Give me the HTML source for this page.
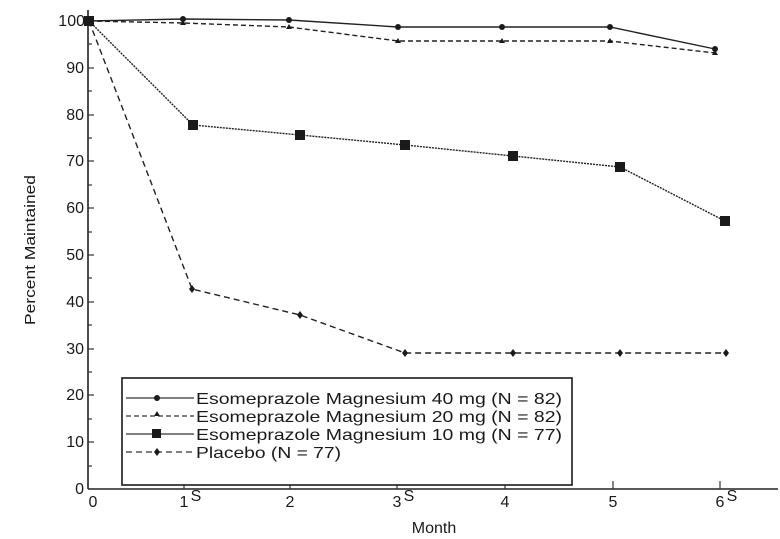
<!DOCTYPE html><html><head><style>body{margin:0;background:#fff}svg{display:block}text{font-family:"Liberation Sans",sans-serif;fill:#1a1a1a}</style></head><body>
<svg width="780" height="539" viewBox="0 0 780 539">
<g stroke="#222" stroke-width="1.6" fill="none">
<line x1="88" y1="10" x2="88" y2="489"/><line x1="88" y1="489" x2="778" y2="489"/>
</g>
<g stroke="#333" stroke-width="1.2">
<line x1="88" y1="21" x2="94" y2="21"/><line x1="88" y1="68" x2="94" y2="68"/><line x1="88" y1="115" x2="94" y2="115"/><line x1="88" y1="161" x2="94" y2="161"/><line x1="88" y1="208" x2="94" y2="208"/><line x1="88" y1="255" x2="94" y2="255"/><line x1="88" y1="302" x2="94" y2="302"/><line x1="88" y1="349" x2="94" y2="349"/><line x1="88" y1="395" x2="94" y2="395"/><line x1="88" y1="442" x2="94" y2="442"/>
<line x1="88" y1="44" x2="92" y2="44"/><line x1="88" y1="91" x2="92" y2="91"/><line x1="88" y1="138" x2="92" y2="138"/><line x1="88" y1="185" x2="92" y2="185"/><line x1="88" y1="232" x2="92" y2="232"/><line x1="88" y1="278" x2="92" y2="278"/><line x1="88" y1="325" x2="92" y2="325"/><line x1="88" y1="372" x2="92" y2="372"/><line x1="88" y1="419" x2="92" y2="419"/><line x1="88" y1="466" x2="92" y2="466"/>
<line x1="184" y1="489" x2="184" y2="481"/><line x1="290" y1="489" x2="290" y2="481"/><line x1="397" y1="489" x2="397" y2="481"/><line x1="505" y1="489" x2="505" y2="481"/><line x1="613" y1="489" x2="613" y2="481"/><line x1="720" y1="489" x2="720" y2="481"/>
</g>
<g font-size="16" text-anchor="end">
<text x="85" y="26">100</text><text x="84" y="73">90</text><text x="84" y="120">80</text><text x="84" y="166">70</text><text x="84" y="213">60</text><text x="84" y="260">50</text><text x="84" y="307">40</text><text x="84" y="354">30</text><text x="84" y="400">20</text><text x="84" y="447">10</text><text x="84" y="494">0</text>
</g>
<g font-size="16" text-anchor="middle">
<text x="93" y="507">0</text><text x="184" y="507">1</text><text x="290" y="507">2</text><text x="397" y="507">3</text><text x="505" y="507">4</text><text x="613" y="507">5</text><text x="720" y="507">6</text>
<text x="196" y="501">S</text><text x="409" y="501">S</text><text x="732" y="501">S</text>
<text x="434" y="533">Month</text>
</g>
<text transform="translate(35,250) rotate(-90)" font-size="15" text-anchor="middle" textLength="150" lengthAdjust="spacingAndGlyphs">Percent Maintained</text>
<g fill="none" stroke="#222" stroke-width="1.4">
<polyline points="89,21 183,19 289,20 398,27 502,27 610,27 715,49"/>
<polyline points="89,21 183,23 289,27 398,41 502,41 610,41 715,53" stroke-dasharray="5,3"/>
<polyline points="89,21 193,125 300,135 405,145 513,156 620,167 725,221" stroke-dasharray="2,1"/>
<polyline points="89,21 192,289 300,315 405,353 513,353 620,353 726,353" stroke-dasharray="6,4"/>
</g>
<g fill="#1a1a1a">
<rect x="84" y="16" width="10" height="10"/>
<circle cx="183" cy="19" r="3"/><circle cx="289" cy="20" r="3"/><circle cx="398" cy="27" r="3"/><circle cx="502" cy="27" r="3"/><circle cx="610" cy="27" r="3"/><circle cx="715" cy="49" r="3"/>
<path d="M183,20l3,5h-6zM289,24l3,5h-6zM398,38l3,5h-6zM502,38l3,5h-6zM610,38l3,5h-6zM715,50l3,5h-6z"/>
<rect x="188" y="120" width="10" height="10"/><rect x="295" y="130" width="10" height="10"/><rect x="400" y="140" width="10" height="10"/><rect x="508" y="151" width="10" height="10"/><rect x="615" y="162" width="10" height="10"/><rect x="720" y="216" width="10" height="10"/>
<path d="M192,285l3,4l-3,4l-3,-4zM300,311l3,4l-3,4l-3,-4zM405,349l3,4l-3,4l-3,-4zM513,349l3,4l-3,4l-3,-4zM620,349l3,4l-3,4l-3,-4zM726,349l3,4l-3,4l-3,-4z"/>
</g>
<rect x="122" y="378" width="450" height="107" fill="#fff" stroke="#1a1a1a" stroke-width="1.6"/>
<g stroke="#333" stroke-width="1.3">
<line x1="126" y1="398" x2="194" y2="398"/>
<line x1="126" y1="416" x2="194" y2="416" stroke-dasharray="5,3"/>
<line x1="126" y1="434" x2="194" y2="434"/>
<line x1="126" y1="452" x2="194" y2="452" stroke-dasharray="6,4"/>
</g>
<g fill="#1a1a1a"><circle cx="157" cy="398" r="3"/><path d="M157,411l3,5h-6z"/><rect x="152" y="429" width="9" height="9"/><path d="M157,448l3,4l-3,4l-3,-4z"/></g>
<g font-size="16"><text x="196" y="404" textLength="366" lengthAdjust="spacingAndGlyphs">Esomeprazole Magnesium 40 mg (N = 82)</text><text x="196" y="422" textLength="366" lengthAdjust="spacingAndGlyphs">Esomeprazole Magnesium 20 mg (N = 82)</text><text x="196" y="440" textLength="366" lengthAdjust="spacingAndGlyphs">Esomeprazole Magnesium 10 mg (N = 77)</text><text x="196" y="458" textLength="145" lengthAdjust="spacingAndGlyphs">Placebo (N = 77)</text></g>
</svg></body></html>
